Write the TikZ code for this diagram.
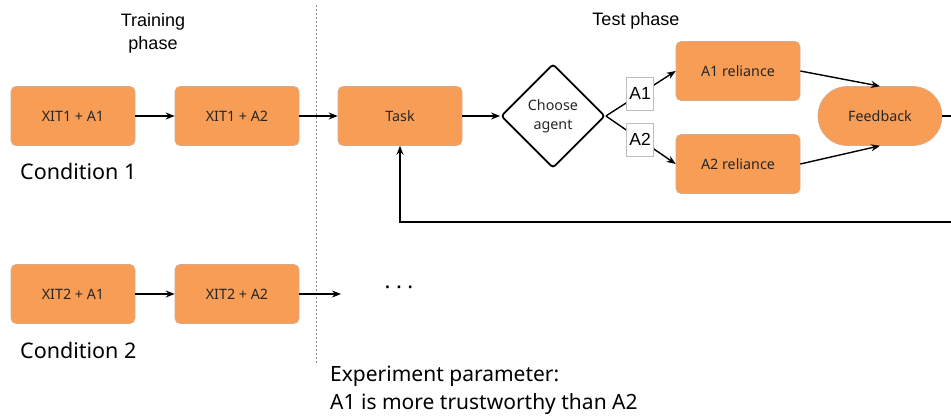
\documentclass[tikz,border=0pt]{standalone}
\usepackage{fontspec}
\setmainfont{Noto Sans}
\newfontfamily\arialf{Liberation Sans}
\usetikzlibrary{arrows.meta,shapes.geometric}
\definecolor{boxorange}{RGB}{248,157,86}
\definecolor{boxedge}{RGB}{215,170,140}
\begin{document}
\begin{tikzpicture}[x=1pt,y=-1pt,
  proc/.style={draw=boxedge,line width=0.6pt,fill=boxorange,rounded corners=5pt,minimum width=124pt,minimum height=59pt,inner sep=0pt,font=\fontsize{14.3}{16}\selectfont,text=black!85},
  term/.style={draw=boxedge,line width=0.6pt,fill=boxorange,rounded corners=29pt,minimum width=124pt,minimum height=59pt,inner sep=0pt,font=\fontsize{14.3}{16}\selectfont,text=black!85},
  dec/.style={draw=black,line width=1.8pt,fill=white,diamond,aspect=1,minimum width=104pt,minimum height=104pt,inner sep=0pt,rounded corners=3pt,align=center,font=\fontsize{14.3}{19}\selectfont,text=black!85},
  lab/.style={draw=black!25,line width=0.6pt,fill=white,minimum width=27pt,minimum height=33pt,inner sep=0pt,font=\arialf\fontsize{17.5}{19}\selectfont},
  head/.style={font=\arialf\fontsize{18}{23}\selectfont,align=center},
  cond/.style={font=\fontsize{21.5}{27}\selectfont,anchor=west,inner sep=0pt},
  arr/.style={-{Stealth[length=9pt,width=7pt]},line width=1.4pt},
  ln/.style={line width=1.4pt}]
\useasboundingbox (0,0) rectangle (951,417);

% phase titles
\node[head] (ttrain) at (153,33) {Training\\phase};
\node[head] (ttest) at (636,21) {Test phase};

% separator
\draw[black!45,line width=1pt,dash pattern=on 2pt off 2pt] (316,5) -- (316,365);

% condition 1 row
\node[proc] (c1a) at (73,116) {XIT1 + A1};
\node[proc] (c1b) at (237,116) {XIT1 + A2};
\node[proc] (task) at (400,116) {Task};
\node[dec] (dia) at (553,116) {Choose\\agent};
\node[proc] (r1) at (738,71) {A1 reliance};
\node[proc] (r2) at (738,164) {A2 reliance};
\node[term] (fb) at (880,116) {Feedback};
\node[cond] (cond1) at (20,171) {Condition 1};

\draw[arr] (c1a) -- (c1b);
\draw[arr] (c1b) -- (task);
\draw[arr] (task) -- (dia);
\draw[arr] (dia.east) -- (r1.west) node[lab,pos=0.49] (l1) {A1};
\draw[arr] (dia.east) -- (r2.west) node[lab,pos=0.49] (l2) {A2};
\draw[arr] (r1.east) -- (fb.north);
\draw[arr] (r2.east) -- (fb.south);
\coordinate (o1) at (965,116);
\coordinate (o2) at (965,222);
\coordinate (o3) at (400,222);
\draw[ln] (fb.east) -- (o1);
\draw[arr] (o2) -- (o3) -- (task.south);

% condition 2 row
\node[proc] (c2a) at (73,294) {XIT2 + A1};
\node[proc] (c2b) at (237,294) {XIT2 + A2};
\coordinate (c2e) at (341,294);
\node[font=\fontsize{22}{24}\selectfont\bfseries] (dots) at (399,287) {.\hspace{5.5pt}.\hspace{5.5pt}.};
\draw[arr] (c2a) -- (c2b);
\draw[arr] (c2b) -- (c2e);
\node[cond] (cond2) at (20,350) {Condition 2};

\node[font=\fontsize{21}{28}\selectfont,align=left,anchor=west,inner sep=0pt] (param) at (330,390) {Experiment parameter:\\A1 is more trustworthy than A2};
\end{tikzpicture}
\end{document}
